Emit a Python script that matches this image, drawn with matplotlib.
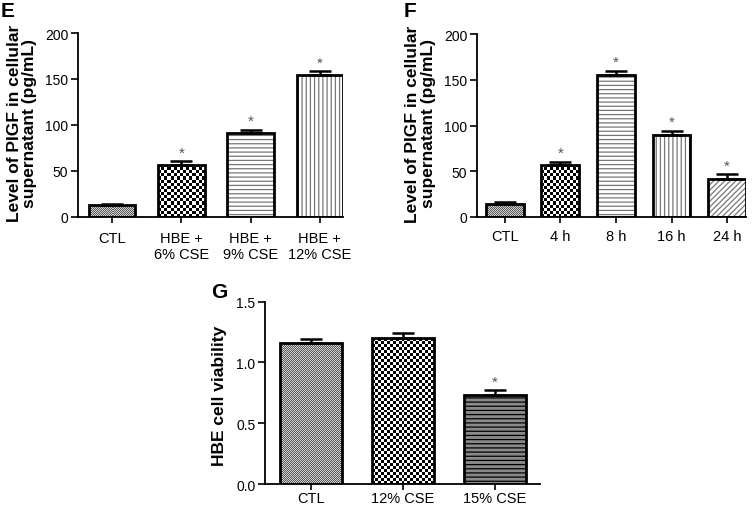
import numpy as np
import matplotlib

matplotlib.use("Agg")
import matplotlib.pyplot as plt
from matplotlib.colors import ListedColormap

plt.rcParams["font.family"] = ["Liberation Sans", "DejaVu Sans"]
plt.rcParams["hatch.linewidth"] = 0.9

# ---------------------------------------------------------------------
# Data
# ---------------------------------------------------------------------
E_LABELS = ["CTL", "HBE +\n6% CSE", "HBE +\n9% CSE", "HBE +\n12% CSE"]
E_MEANS = [13, 57, 91, 154]
E_ERR = [1.5, 3.5, 4.0, 4.5]
E_SIG = [False, True, True, True]

F_LABELS = ["CTL", "4 h", "8 h", "16 h", "24 h"]
F_MEANS = [14, 57, 155, 90, 41]
F_ERR = [2.5, 3.5, 4.5, 4.0, 5.5]
F_SIG = [False, True, True, True, True]

G_LABELS = ["CTL", "12% CSE", "15% CSE"]
G_MEANS = [1.16, 1.20, 0.735]
G_ERR = [0.03, 0.045, 0.04]
G_SIG = [False, False, True]

E_FILLS = ["fine", "checker", "hline", "vline"]
F_FILLS = ["fine", "checker", "hline", "vline", "diag"]
G_FILLS = ["fine", "checker", "darkline"]

PIGF_LABEL = "Level of PIGF in cellular\nsupernatant (pg/mL)"


def fill_pattern(ax, bar, cell_px, c1, c2):
    x0, y0 = bar.get_x(), bar.get_y()
    x1, y1 = x0 + bar.get_width(), y0 + bar.get_height()
    p0 = ax.transData.transform((x0, y0))
    p1 = ax.transData.transform((x1, y1))
    nx = max(1, int(round(abs(p1[0] - p0[0]) / cell_px)))
    ny = max(1, int(round(abs(p1[1] - p0[1]) / cell_px)))
    arr = (np.add.outer(np.arange(ny), np.arange(nx)) % 2).astype(float)
    im = ax.imshow(arr, extent=(x0, x1, y0, y1), aspect="auto",
                   interpolation="nearest", origin="lower",
                   cmap=ListedColormap([c1, c2]), zorder=2)
    im.set_clip_path(bar)


def draw_panel(ax, labels, means, err, sig, fills, width, xlim, ylim, yticks,
               star_off, xpad):
    x = np.arange(len(labels))
    ax.set_xlim(*xlim)
    ax.set_ylim(*ylim)
    bars = ax.bar(x, means, width=width, facecolor="none", edgecolor="black",
                  linewidth=2.0, zorder=3)
    for b, kind in zip(bars, fills):
        if kind == "fine":
            fill_pattern(ax, b, 1.0, "#5a5a5a", "#d0d0d0")
        elif kind == "checker":
            fill_pattern(ax, b, 3.0, "black", "white")
        else:
            hatch = {"hline": "----", "vline": "||||", "diag": "//////",
                     "darkline": "----"}[kind]
            face = "#8a8a8a" if kind == "darkline" else "white"
            hcol = "black" if kind == "darkline" else "#777777"
            ax.bar(b.get_x() + b.get_width() / 2, b.get_height(), width=width,
                   facecolor=face, edgecolor=hcol, hatch=hatch, linewidth=0,
                   zorder=2)
    ax.errorbar(x, means, yerr=[np.zeros(len(err)), err], fmt="none",
                ecolor="black", elinewidth=1.8, capsize=8, capthick=1.8,
                zorder=4)
    for xi, m, e, s in zip(x, means, err, sig):
        if s:
            ax.text(xi, m + e + star_off, "*", ha="center", va="bottom",
                    color="#555555", fontsize=11)
    ax.set_xticks(x)
    ax.set_xticklabels(labels)
    ax.set_yticks(yticks)
    for sp in ["top", "right"]:
        ax.spines[sp].set_visible(False)
    for sp in ["left", "bottom"]:
        ax.spines[sp].set_linewidth(1.3)
    ax.tick_params(axis="y", direction="out", length=5, width=1.2,
                   labelsize=10, pad=2)
    ax.tick_params(axis="x", direction="out", length=4, width=1.2,
                   labelsize=10.5, pad=xpad)
    ax.set_xlim(*xlim)
    ax.set_ylim(*ylim)


fig = plt.figure(figsize=(7.54, 5.06), dpi=100)

axE = fig.add_axes([0.1034, 0.5692, 0.3515, 0.3636])
draw_panel(axE, E_LABELS, E_MEANS, E_ERR, E_SIG, E_FILLS, 0.667,
           (-0.5, 3.34), (0, 200), [0, 50, 100, 150, 200], 2, 6)
axE.text(-0.211, 0.514, PIGF_LABEL, transform=axE.transAxes, rotation=90,
         ha="center", va="center", fontsize=12.5, fontweight="bold",
         linespacing=1.05)

axF = fig.add_axes([0.6326, 0.5692, 0.3568, 0.3616])
draw_panel(axF, F_LABELS, F_MEANS, F_ERR, F_SIG, F_FILLS, 0.68,
           (-0.5, 4.34), (0, 200), [0, 50, 100, 150, 200], 2, 5)
axF.text(-0.209, 0.514, PIGF_LABEL, transform=axF.transAxes, rotation=90,
         ha="center", va="center", fontsize=12.5, fontweight="bold",
         linespacing=1.05)

axG = fig.add_axes([0.3515, 0.0415, 0.3647, 0.3603])
draw_panel(axG, G_LABELS, G_MEANS, G_ERR, G_SIG, G_FILLS, 0.67,
           (-0.5, 2.49), (0, 1.5), [0.0, 0.5, 1.0, 1.5], 0.012, 1)
axG.yaxis.set_major_formatter(matplotlib.ticker.FormatStrFormatter("%.1f"))
axG.text(-0.164, 0.49, "HBE cell viability", transform=axG.transAxes,
         rotation=90, ha="center", va="center", fontsize=12.5,
         fontweight="bold")

fig.text(0.001, 0.997, "E", fontsize=15, fontweight="bold", va="top")
fig.text(0.535, 0.997, "F", fontsize=15, fontweight="bold", va="top")
fig.text(0.280, 0.44, "G", fontsize=15, fontweight="bold", va="top")

fig.savefig("out.png", dpi=100)
